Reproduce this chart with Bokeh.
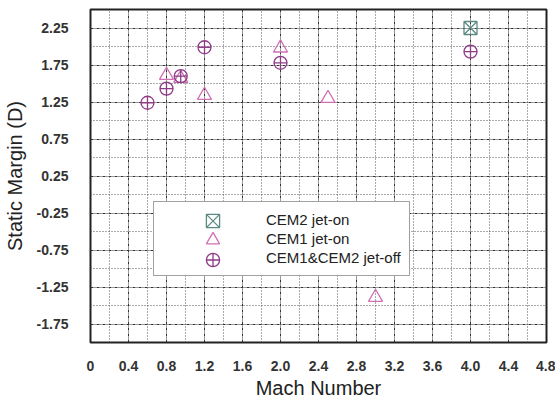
from bokeh.plotting import figure
from bokeh.models import FixedTicker, Range1d, Legend, LegendItem
from bokeh.embed import file_html
from bokeh.resources import INLINE

# CEM2 jet-on
cem2_on_mach = [4.0]
cem2_on_sm = [2.25]
# CEM1 jet-on
cem1_on_mach = [0.8, 0.95, 1.2, 2.0, 2.5, 3.0]
cem1_on_sm = [1.61, 1.57, 1.34, 1.98, 1.30, -1.39]
# CEM1&CEM2 jet-off
off_mach = [0.6, 0.8, 0.95, 1.2, 2.0, 4.0]
off_sm = [1.24, 1.43, 1.60, 1.99, 1.78, 1.93]

series_labels = ["CEM2 jet-on", "CEM1 jet-on", "CEM1&CEM2 jet-off"]

x_ticks = [0, 0.4, 0.8, 1.2, 1.6, 2.0, 2.4, 2.8, 3.2, 3.6, 4.0, 4.4, 4.8]
x_labels = ["0", "0.4", "0.8", "1.2", "1.6", "2.0", "2.4", "2.8", "3.2", "3.6", "4.0", "4.4", "4.8"]
x_minor = [0.2, 0.6, 1.0, 1.4, 1.8, 2.2, 2.6, 3.0, 3.4, 3.8, 4.2, 4.6]
y_ticks = [2.25, 1.75, 1.25, 0.75, 0.25, -0.25, -0.75, -1.25, -1.75]
y_labels = ["2.25", "1.75", "1.25", "0.75", "0.25", "-0.25", "-0.75", "-1.25", "-1.75"]
y_minor = [2.0, 1.5, 1.0, 0.5, 0.0, -0.5, -1.0, -1.5]

p = figure(frame_width=456, frame_height=333, output_backend="svg", toolbar_location=None,
           x_range=Range1d(0, 4.8), y_range=Range1d(-2.0, 2.5),
           min_border_left=90, min_border_right=9, min_border_top=9, min_border_bottom=61)
p.background_fill_color = "white"
p.border_fill_color = "white"
p.outline_line_color = "#222222"
p.outline_line_width = 2

p.xaxis.ticker = FixedTicker(ticks=x_ticks, minor_ticks=x_minor)
p.yaxis.ticker = FixedTicker(ticks=y_ticks, minor_ticks=y_minor)
p.xaxis.major_label_overrides = {t: l for t, l in zip(x_ticks, x_labels)}
p.yaxis.major_label_overrides = {t: l for t, l in zip(y_ticks, y_labels)}

for ax in (p.xaxis, p.yaxis):
    ax.axis_line_color = None
    ax.major_tick_line_color = None
    ax.minor_tick_line_color = None
    ax.major_tick_out = 0
    ax.major_tick_in = 0
    ax.minor_tick_out = 0
    ax.minor_tick_in = 0
    ax.major_label_text_font = "Liberation Sans"
    ax.major_label_text_font_style = "bold"
    ax.major_label_text_font_size = "14px"
    ax.major_label_text_color = "#333333"
    ax.axis_label_text_font = "Liberation Sans"
    ax.axis_label_text_font_style = "normal"
    ax.axis_label_text_font_size = "20px"
    ax.axis_label_text_color = "#222222"

p.xaxis.axis_label = "Mach Number"
p.yaxis.axis_label = "Static Margin (D)"
p.xaxis.major_label_standoff = 18
p.xaxis.axis_label_standoff = 3
p.yaxis.major_label_standoff = 22
p.yaxis.major_label_text_align = "left"
p.yaxis.axis_label_standoff = 8

for g in (p.xgrid, p.ygrid):
    g.grid_line_color = "#333333"
    g.grid_line_dash = "3 1 1 1"
    g.grid_line_width = 1
    g.minor_grid_line_color = "#555555"
    g.minor_grid_line_dash = "1 2"
    g.minor_grid_line_width = 1

styles = [dict(marker="square_x", size=13, line_color="#5b8c84"),
          dict(marker="triangle", size=14, line_color="#d070b4"),
          dict(marker="circle_cross", size=13, line_color="#8e3c86")]
data = [(cem2_on_mach, cem2_on_sm), (cem1_on_mach, cem1_on_sm), (off_mach, off_sm)]

renderers = []
for (xs, ys), st in zip(data, styles):
    renderers.append(p.scatter(xs, ys, fill_color=None, line_width=1.3, **st))

# legend box with labels (glyph-less placeholders keep the layout)
dummies = [p.scatter([], [], marker="circle", fill_color=None, line_alpha=0) for _ in series_labels]
legend = Legend(items=[LegendItem(label=l, renderers=[d]) for l, d in zip(series_labels, dummies)],
                location=(63, 66))
legend.padding = 8
legend.spacing = 0
legend.margin = 0
legend.label_height = 19
legend.glyph_height = 19
legend.glyph_width = 102
legend.label_standoff = 2
legend.label_width = 135
legend.label_text_font = "Liberation Sans"
legend.label_text_font_size = "15px"
legend.label_text_color = "#222222"
legend.border_line_color = "#444444"
legend.border_line_width = 1.5
legend.background_fill_color = "white"
legend.background_fill_alpha = 1
p.add_layout(legend, "center")

# full-size legend markers, one per row
for i, r in enumerate(renderers):
    lg = Legend(items=[LegendItem(label=" ", renderers=[r])],
                location=(105.5, 105.5 - 19.5 * i))
    lg.padding = 0
    lg.margin = 0
    lg.spacing = 0
    lg.glyph_height = 33
    lg.glyph_width = 33
    lg.label_height = 33
    lg.label_width = 0
    lg.label_standoff = 0
    lg.border_line_color = None
    lg.background_fill_alpha = 0
    lg.label_text_font_size = "1px"
    p.add_layout(lg, "center")

open("out.html", "w").write(file_html(p, INLINE))
